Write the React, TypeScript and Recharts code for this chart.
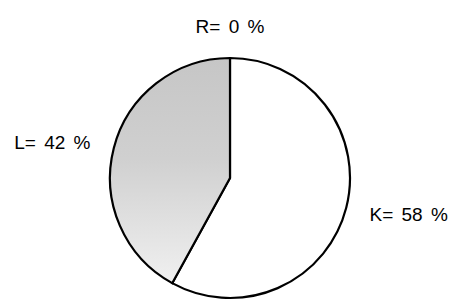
import React from "react";
import { PieChart, Pie, Cell } from "recharts";

const categories = ["K", "L", "R"];
const shares = [58, 42, 0];
const fills = ["#ffffff", "url(#stipple)", "#ffffff"];

const data = categories.map((name, i) => ({ name, value: shares[i] }));

const RAD = Math.PI / 180;

const renderLabel = (props: any) => {
  const { cx, cy, midAngle, outerRadius, name, value } = props;
  const r = outerRadius + 24;
  const dx = Math.cos(-midAngle * RAD);
  const dy = Math.sin(-midAngle * RAD);
  const x = cx + r * dx;
  const y = cy + r * dy;
  let anchor: "start" | "end" | "middle" = "middle";
  if (dx > 0.2) anchor = "start";
  else if (dx < -0.2) anchor = "end";
  const baseline = dy < -0.9 ? y - 1 : y + 7;
  return (
    <text
      x={x}
      y={baseline}
      textAnchor={anchor}
      fill="#000"
      fontSize={19}
      fontFamily="Liberation Sans, Arial, sans-serif"
      style={{ wordSpacing: "3px" }}
    >
      {`${name}= ${value} %`}
    </text>
  );
};

export default function App() {
  return (
    <div style={{ position: "absolute", left: 0, top: 0, width: 450, height: 300, background: "#fff" }}>
      <PieChart width={450} height={300} margin={{ top: 0, right: 0, bottom: 0, left: 0 }}>
        <defs>
          <linearGradient id="stipple" x1="0" y1="0" x2="0" y2="1">
            <stop offset="0%" stopColor="#c6c6c6" />
            <stop offset="45%" stopColor="#d0d0d0" />
            <stop offset="100%" stopColor="#f0f0f0" />
          </linearGradient>
        </defs>
        <Pie
          data={data}
          dataKey="value"
          nameKey="name"
          cx={230}
          cy={178}
          outerRadius={120}
          innerRadius={0}
          startAngle={90}
          endAngle={-270}
          stroke="#000"
          strokeWidth={2.2}
          label={renderLabel}
          labelLine={false}
          isAnimationActive={false}
        >
          {data.map((d, i) => (
            <Cell key={d.name} fill={fills[i]} stroke="#000" strokeWidth={2.2} />
          ))}
        </Pie>
      </PieChart>
    </div>
  );
}
